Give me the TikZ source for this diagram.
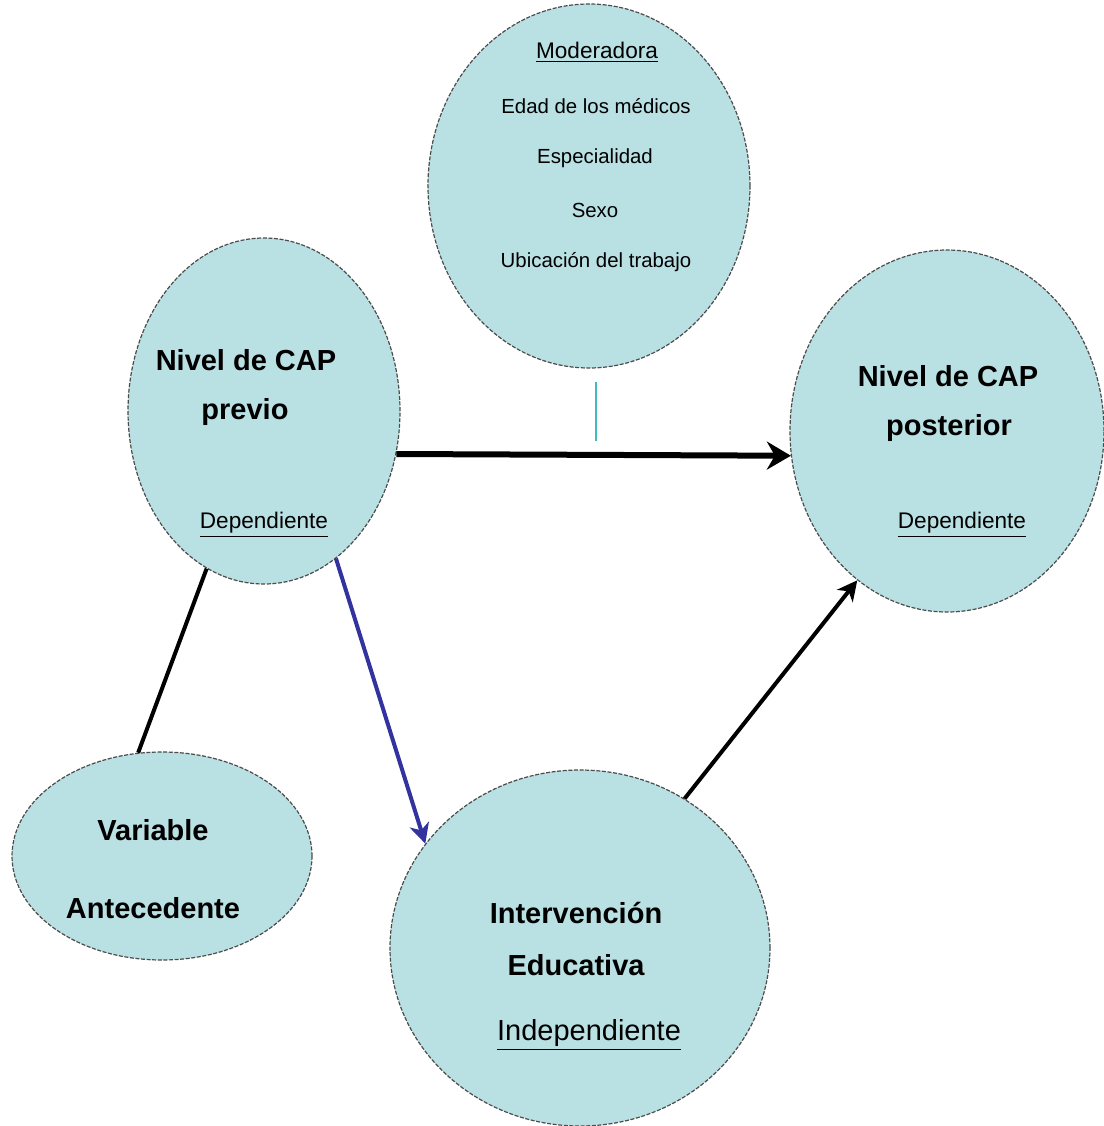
\documentclass[tikz,border=0pt]{standalone}
\usepackage{fontspec}
\setmainfont{Liberation Sans}
\usetikzlibrary{shapes.geometric,arrows.meta}
\definecolor{bubblefill}{RGB}{185,224,227}
\definecolor{linkblue}{RGB}{51,51,160}
\definecolor{linkteal}{RGB}{64,188,188}
\tikzset{
  bubble/.style={ellipse, draw=black!70, line width=0.6pt,
    dash pattern=on 2pt off 0.8pt, fill=bubblefill, inner sep=0pt},
  title/.style={font=\fontsize{14.5}{16}\selectfont\bfseries},
  role/.style={font=\fontsize{11.3}{13}\selectfont},
  item/.style={font=\fontsize{10.2}{12}\selectfont},
  link/.style={line width=2pt, -{Stealth[length=10pt,width=10pt,inset=3pt]}},
}
\begin{document}
\begin{tikzpicture}[x=0.5pt, y=-0.5pt]
      \useasboundingbox[fill=white] (0,0) rectangle (1104,1126);
      \draw
        (589,186) node[bubble, minimum width=161pt, minimum height=182pt] (mod){}
        (264,411) node[bubble, minimum width=136pt, minimum height=173pt] (previo){}
        (947,431) node[bubble, minimum width=157pt, minimum height=181pt] (posterior){}
        (162,856) node[bubble, minimum width=150pt, minimum height=104pt] (antec){}
        (580,948) node[bubble, minimum width=190pt, minimum height=178pt] (interv){};
      % texts
      \draw
        (597,52) node[role] (modtitle){\underline{Moderadora}}
        (596,106) node[item] (edad){Edad de los médicos}
        (595,158) node[item] (espec){Especialidad}
        (595,210) node[item] (sexo){Sexo}
        (596,262) node[item] (ubic){Ubicación del trabajo}
        (246,360) node[title] (previo1){Nivel de CAP}
        (245,412) node[title] (previo2){previo}
        (264,525) node[role] (previodep){\underline{Dependiente}}
        (948,376) node[title] (post1){Nivel de CAP}
        (949,428) node[title] (post2){posterior}
        (962,525) node[role] (postdep){\underline{Dependiente}}
        (153,830) node[title] (antec1){Variable}
        (153,908) node[title] (antec2){Antecedente}
        (576,913) node[title] (interv1){Intervención}
        (576,965) node[title] (interv2){Educativa}
        (589,1035) node[title, font=\fontsize{14.5}{16}\selectfont] (indep){\underline{Independiente}};
      \coordinate (modtop) at (596,382);
      \coordinate (modbot) at (596,441);
      \begin{scope}[-]
        \draw[line width=3pt, -{Stealth[length=12pt,width=14pt,inset=4pt]}]
          (previo.-18.5) to (posterior.-171);
        \draw[line width=1pt, linkteal] (modtop) to (modbot);
        \draw[line width=2pt] (previo.-110) to (antec.103);
        \draw[link, linkblue] (previo.-64.7) to (interv.146);
        \draw[link] (interv.55.4) to (posterior.-121);
      \end{scope}
    \end{tikzpicture}
\end{document}
